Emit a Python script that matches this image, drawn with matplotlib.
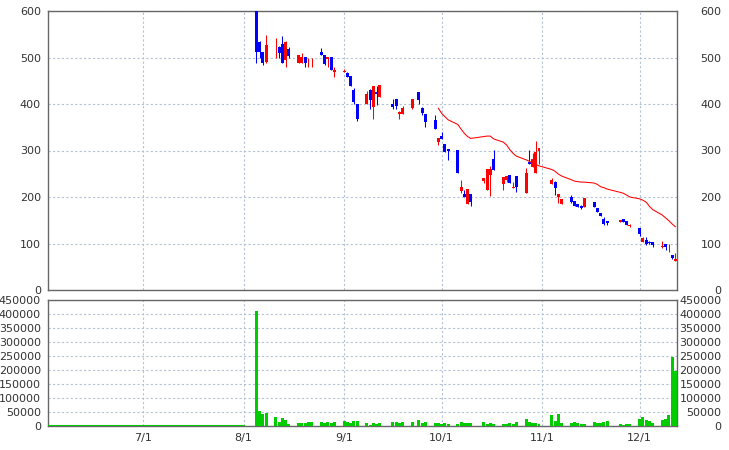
import datetime as dt
import matplotlib
matplotlib.use("Agg")
import matplotlib.pyplot as plt
import matplotlib.dates as mdates

# --- data ---
dates = ["08-05", "08-06", "08-07", "08-08",
         "08-11", "08-12", "08-13", "08-14", "08-15",
         "08-18", "08-19", "08-20", "08-21", "08-22",
         "08-25", "08-26", "08-27", "08-28", "08-29",
         "09-01", "09-02", "09-03", "09-04", "09-05",
         "09-08", "09-09", "09-10", "09-11", "09-12",
         "09-16", "09-17", "09-18", "09-19",
         "09-22", "09-24", "09-25", "09-26",
         "09-29", "09-30", "10-01", "10-02", "10-03",
         "10-06", "10-07", "10-08", "10-09", "10-10",
         "10-14", "10-15", "10-16", "10-17",
         "10-20", "10-21", "10-22", "10-23", "10-24",
         "10-27", "10-28", "10-29", "10-30", "10-31",
         "11-04", "11-05", "11-06", "11-07",
         "11-10", "11-11", "11-12", "11-13", "11-14",
         "11-17", "11-18", "11-19", "11-20", "11-21",
         "11-25", "11-26", "11-27", "11-28",
         "12-01", "12-02", "12-03", "12-04", "12-05",
         "12-08", "12-09", "12-10", "12-11", "12-12"]

opens = [600, 533, 512, 491,
         520, 523, 530, 495, 519,
         489, 489, 502, 485, 485,
         511, 505, 497, 500, 469,
         469, 466, 460, 430, 399,
         399, 430, 394, 425, 414,
         400, 411, 378, 379,
         392, 426, 391, 378,
         366, 319, 331, 314, 303,
         301, 212, 206, 186, 206,
         235, 215, 247, 282,
         227, 237, 247, 220, 245,
         209, 276, 265, 251, 300,
         228, 233, 201, 186,
         199, 192, 185, 181, 178,
         190, 176, 165, 152, 149,
         147, 153, 149, 137,
         134, 104, 108, 104, 103,
         92, 100, 98, 75, 63]

highs = [600, 535, 512, 548,
         541, 525, 546, 536, 522,
         506, 510, 502, 500, 500,
         520, 505, 501, 500, 480,
         475, 468, 461, 434, 399,
         428, 432, 439, 439, 441,
         411, 411, 384, 396,
         411, 426, 393, 378,
         376, 327, 340, 314, 303,
         301, 237, 214, 217, 206,
         241, 260, 267, 301,
         243, 246, 247, 232, 245,
         262, 301, 295, 321, 305,
         240, 235, 206, 196,
         204, 192, 185, 182, 198,
         190, 176, 165, 156, 149,
         151, 153, 149, 143,
         134, 113, 115, 105, 104,
         105, 100, 99, 75, 79]

lows = [489, 500, 484, 488,
        500, 500, 488, 480, 500,
        489, 489, 480, 480, 480,
        505, 484, 480, 473, 457,
        469, 459, 439, 400, 363,
        399, 389, 368, 398, 414,
        389, 389, 368, 378,
        389, 400, 376, 351,
        346, 312, 325, 297, 280,
        251, 208, 200, 186, 181,
        231, 215, 202, 257,
        216, 232, 231, 220, 211,
        209, 270, 265, 251, 272,
        228, 204, 188, 186,
        188, 181, 179, 175, 178,
        178, 168, 159, 140, 140,
        147, 147, 140, 136,
        116, 104, 97, 100, 92,
        90, 85, 82, 67, 62]

closes = [512, 512, 488, 527,
          521, 510, 488, 533, 503,
          505, 502, 489, 486, 486,
          505, 487, 500, 473, 474,
          472, 459, 439, 405, 367,
          421, 409, 439, 421, 441,
          394, 396, 383, 392,
          411, 409, 381, 361,
          346, 326, 325, 297, 300,
          251, 221, 201, 217, 190,
          241, 260, 260, 257,
          242, 245, 231, 221, 221,
          252, 270, 281, 297, 305,
          237, 219, 206, 196,
          190, 181, 179, 176, 198,
          178, 168, 159, 143, 145,
          151, 147, 140, 139,
          120, 112, 100, 102, 97,
          94, 92, 99, 68, 67]

volumes = [412000, 53000, 42000, 47000,
           31000, 13000, 28000, 21000, 6000,
           10000, 10000, 9000, 13000, 13000,
           13000, 10000, 13000, 10000, 13000,
           17000, 13000, 10000, 17000, 17000,
           10000, 5000, 10000, 6000, 10000,
           13000, 13000, 10000, 13000,
           13000, 21000, 10000, 13000,
           9000, 9000, 7000, 9000, 6000,
           6000, 13000, 9000, 9000, 9000,
           13000, 6000, 9000, 6000,
           6000, 6000, 9000, 6000, 13000,
           24000, 13000, 9000, 9000, 6000,
           38000, 17000, 42000, 9000,
           9000, 13000, 9000, 6000, 6000,
           13000, 9000, 9000, 13000, 17000,
           6000, 3000, 6000, 6000,
           24000, 31000, 20000, 17000, 9000,
           20000, 24000, 38000, 248000, 197000]

# moving average line, starts on 09-30
ma_start = 38
ma_values = [391, 380, 373, 366,
             356, 346, 337, 330, 326,
             330, 331, 331, 325,
             318, 312, 302, 294, 288,
             280, 277, 273, 270, 267,
             259, 255, 249, 245,
             237, 234, 233, 232, 232,
             230, 227, 222, 220, 217,
             210, 208, 204, 200,
             196, 193, 189, 180, 173,
             161, 155, 149, 142, 136]

YEAR = 2014
days = [dt.datetime(YEAR, int(s[:2]), int(s[3:])) for s in dates]

RED = "#ff0000"
BLUE = "#0000ff"
GREEN = "#00cc00"
GRID = "#b4c2d4"
SPINE = "#666666"
TXT = "#333333"

plt.rcParams["font.family"] = "DejaVu Sans"
plt.rcParams["font.size"] = 8

fig = plt.figure(figsize=(7.29, 4.5), dpi=100)
ax = fig.add_axes([48 / 729, 160 / 450, 629 / 729, 279 / 450])
axv = fig.add_axes([48 / 729, 24 / 450, 629 / 729, 126 / 450], sharex=ax)

x0 = dt.datetime(YEAR, 6, 1, 19)
x1 = dt.datetime(YEAR, 12, 12, 12)

# candles
cols = [RED if c >= o else BLUE for o, c in zip(opens, closes)]
bottoms = [min(o, c) for o, c in zip(opens, closes)]
heights = [max(abs(c - o), 1.5) for o, c in zip(opens, closes)]
ax.vlines(days, lows, highs, colors=cols, lw=0.75, zorder=3)
ax.bar(days, heights, bottom=bottoms, width=0.92, color=cols, linewidth=0, zorder=4)
ax.plot(days[ma_start:], ma_values, color=RED, lw=0.75, zorder=5)

# volume
axv.bar(days, volumes, width=0.92, color=GREEN, linewidth=0, zorder=3)
axv.plot([x0, dt.datetime(YEAR, 8, 1)], [0, 0], color=GREEN, lw=1.5, zorder=3)

ax.set_xlim(x0, x1)
ax.set_ylim(0, 600)
axv.set_ylim(0, 450000)

price_ticks = list(range(0, 601, 100))
vol_ticks = list(range(0, 450001, 50000))

for a, ticks in ((ax, price_ticks), (axv, vol_ticks)):
    a.set_yticks(ticks)
    a.set_yticklabels([str(t) for t in ticks])
    a.xaxis.set_major_locator(mdates.MonthLocator())
    a.grid(True, color=GRID, linestyle=(0, (2, 2)), lw=0.8, zorder=0)
    a.set_axisbelow(True)
    for sp in a.spines.values():
        sp.set_color(SPINE)
        sp.set_linewidth(1)
    a.tick_params(axis="both", length=0, colors=TXT, labelsize=8)
    a.tick_params(axis="y", pad=5)
    # right side labels, right-aligned near the figure edge
    r = a.twinx()
    r.set_ylim(a.get_ylim())
    r.set_yticks(ticks)
    labs = r.set_yticklabels([str(t) for t in ticks])
    for lab in labs:
        lab.set_horizontalalignment("right")
    r.tick_params(axis="y", length=0, colors=TXT, labelsize=8, pad=32)
    for sp in r.spines.values():
        sp.set_visible(False)

ax.tick_params(axis="x", labelbottom=False)
axv.xaxis.set_major_formatter(
    matplotlib.ticker.FuncFormatter(lambda v, p: f"{mdates.num2date(v).month}/{mdates.num2date(v).day}"))
axv.tick_params(axis="x", pad=5)

fig.savefig("out.png", dpi=100)
